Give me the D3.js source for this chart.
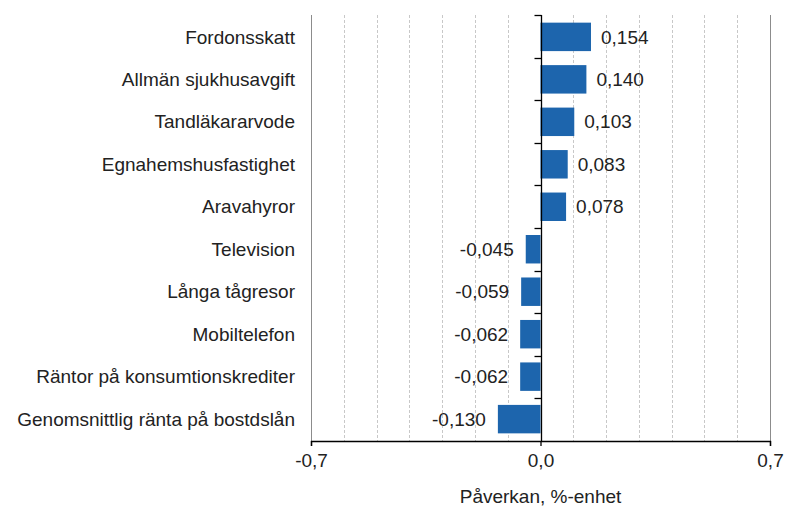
<!DOCTYPE html>
<html>
<head>
<meta charset="utf-8">
<script src="https://cdn.jsdelivr.net/npm/d3@7"></script>
<style>
  body { margin: 0; background: #fff; }
  text { font-family: "Liberation Sans", Arial, sans-serif; fill: #222; }
</style>
</head>
<body>
<div id="chart"></div>
<script>
// data
const categories = ['Fordonsskatt', 'Allmän sjukhusavgift', 'Tandläkararvode', 'Egnahemshusfastighet',
  'Aravahyror', 'Television', 'Långa tågresor', 'Mobiltelefon',
  'Räntor på konsumtionskrediter', 'Genomsnittlig ränta på bostdslån'];
const values = [0.154, 0.140, 0.103, 0.083, 0.078, -0.045, -0.059, -0.062, -0.062, -0.130];
const xTicks = [-0.7, 0.0, 0.7];
const gridTicks = d3.range(-7, 8).map(i => i / 10);

const svgWidth = 788, svgHeight = 507;
const margin = {top: 15, right: 18, bottom: 66, left: 311};
const width = svgWidth - margin.left - margin.right;
const height = svgHeight - margin.top - margin.bottom;
const fontSize = '19px';

const svg = d3.select('#chart').append('svg').attr('width', svgWidth).attr('height', svgHeight);
const g = svg.append('g').attr('transform', `translate(${margin.left},${margin.top})`);

const x = d3.scaleLinear().domain([-0.7, 0.7]).range([0, width]);
const y = d3.scaleBand().domain(categories).range([0, height]).paddingInner(0.33).paddingOuter(0.18);
const band = d3.scaleBand().domain(categories).range([0, height]);

const fmt = v => d3.format('.3f')(v).replace('.', ',').replace('−', '-');

// grid
g.selectAll('.grid').data(gridTicks.filter(t => t !== 0 && Math.abs(t) < 0.7)).enter()
  .append('line')
  .attr('x1', d => Math.round(x(d)) + 0.5).attr('x2', d => Math.round(x(d)) + 0.5)
  .attr('y1', 0).attr('y2', height)
  .attr('stroke', '#c8c8c8').attr('stroke-dasharray', '3,2');

// frame sides
[-0.7, 0.7].forEach(t => {
  g.append('line')
    .attr('x1', Math.round(x(t)) + 0.5).attr('x2', Math.round(x(t)) + 0.5)
    .attr('y1', 0).attr('y2', height)
    .attr('stroke', '#8c8c8c');
});

// bars
g.selectAll('.bar').data(values).enter().append('rect')
  .attr('x', d => x(Math.min(0, d)))
  .attr('y', (d, i) => y(categories[i]))
  .attr('width', d => Math.abs(x(d) - x(0)))
  .attr('height', y.bandwidth())
  .attr('fill', '#1d65ad');

// value labels
g.selectAll('.val').data(values).enter().append('text')
  .attr('x', d => d >= 0 ? x(d) + 10 : x(d) - 12)
  .attr('y', (d, i) => y(categories[i]) + y.bandwidth() / 2)
  .attr('dy', '0.35em')
  .attr('text-anchor', d => d >= 0 ? 'start' : 'end')
  .style('font-size', fontSize)
  .text(d => fmt(d));

// zero axis with category ticks
const zx = Math.round(x(0)) + 0.5;
g.append('line').attr('x1', zx).attr('x2', zx).attr('y1', 0).attr('y2', height)
  .attr('stroke', '#000').attr('stroke-width', 1.3);
g.selectAll('.ctick').data(categories).enter().append('line')
  .attr('x1', zx - 7).attr('x2', zx)
  .attr('y1', d => Math.round(band(d)) + 0.5).attr('y2', d => Math.round(band(d)) + 0.5)
  .attr('stroke', '#000').attr('stroke-width', 1.3);

// category labels
g.selectAll('.cat').data(categories).enter().append('text')
  .attr('x', -16)
  .attr('y', d => y(d) + y.bandwidth() / 2)
  .attr('dy', '0.35em')
  .attr('text-anchor', 'end')
  .style('font-size', fontSize)
  .text(d => d);

// bottom axis
const xAxis = g.append('g').attr('transform', `translate(0,${height})`)
  .call(d3.axisBottom(x).tickValues(xTicks).tickSize(5).tickPadding(8)
    .tickFormat(d => d3.format('.1f')(d).replace('.', ',').replace('−', '-')));
xAxis.select('.domain').attr('stroke', '#000').attr('stroke-width', 1.3);
xAxis.selectAll('.tick line').attr('stroke', '#000').attr('stroke-width', 1.3);
xAxis.selectAll('.tick text').style('font-size', fontSize).attr('fill', '#222')
  .style('font-family', '"Liberation Sans", Arial, sans-serif');

// axis title
g.append('text')
  .attr('x', x(0)).attr('y', height + 62)
  .attr('text-anchor', 'middle')
  .style('font-size', fontSize)
  .text('Påverkan, %-enhet');
</script>
</body>
</html>
